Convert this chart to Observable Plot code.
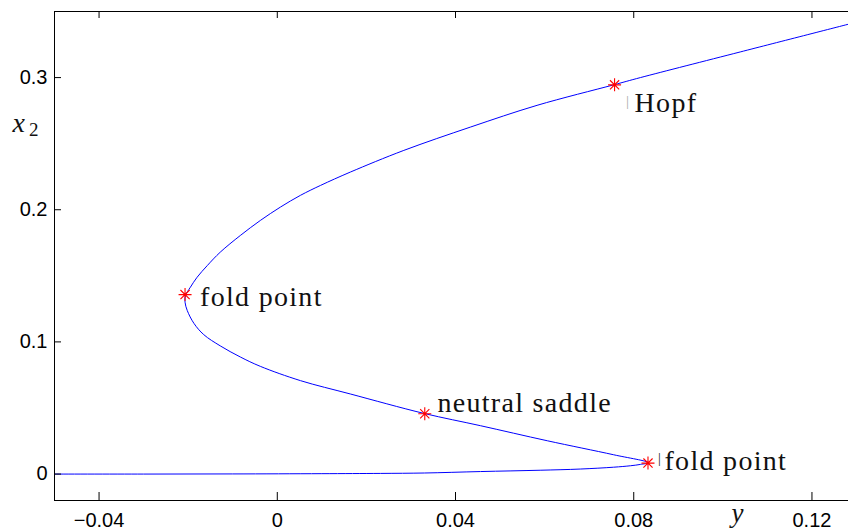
<!DOCTYPE html>
<html><head><meta charset="utf-8">
<script src="https://cdn.jsdelivr.net/npm/d3@7"></script>
<script src="https://cdn.jsdelivr.net/npm/@observablehq/plot@0.6"></script>
<style>
html,body{margin:0;padding:0;background:#fff;overflow:hidden}
</style></head><body><div id="chart"></div>
<script>
// Continuation curve: parameter y (horizontal) vs state x2 (vertical)
const curveY = [-0.05, -0.03, -0.01, 0.01, 0.0232, 0.033, 0.0456, 0.059, 0.068, 0.0755, 0.0793, 0.0815, 0.0833,
  0.0755, 0.0606, 0.0456, 0.0329, 0.0164, 0.0052, -0.0038, -0.0083, -0.0128, -0.0165, -0.0187, -0.0202, -0.0207,
  -0.0206, -0.0195, -0.0180, -0.0157, -0.0128, -0.0083, -0.0038, 0.0007, 0.0052, 0.0097, 0.0164, 0.0284, 0.0434, 0.0583, 0.0755, 0.0815, 0.1039, 0.1282];
const curveX2 = [0.0000, 0.0000, 0.0001, 0.0003, 0.0005, 0.0008, 0.0019, 0.0029, 0.0038, 0.0052, 0.0063, 0.0073, 0.0086,
  0.0146, 0.0252, 0.0366, 0.0459, 0.0606, 0.0707, 0.0815, 0.0886, 0.0970, 0.1055, 0.1140, 0.1237, 0.1300,
  0.1351, 0.1414, 0.1489, 0.1578, 0.1679, 0.1805, 0.1919, 0.2020, 0.2109, 0.2184, 0.2285, 0.2449, 0.2626, 0.2790, 0.2945, 0.3000, 0.3194, 0.3404];

// Special points
const pointY = [0.0757, -0.0207, 0.0331, 0.0832];
const pointX2 = [0.2945, 0.1358, 0.0456, 0.0083];
const pointLabels = ["Hopf", "fold point", "neutral saddle", "fold point"];

// Axes
const xTicks = [-0.04, 0, 0.04, 0.08, 0.12];
const xTickLabels = ["−0.04", "0", "0.04", "0.08", "0.12"];
const yTicks = [0, 0.1, 0.2, 0.3];
const yTickLabels = ["0", "0.1", "0.2", "0.3"];
const xDomain = [-0.05, 0.1282];
const yDomain = [-0.02, 0.35];
const xLabel = "y";
const yLabelMain = "x";
const yLabelSub = "2";

const W = 848, H = 531, mL = 54, mR = 0, mT = 11, mB = 31;
const plotW = W - mL - mR, plotH = H - mT - mB;

const matlabStar = {
  draw(context, size) {
    const r = Math.sqrt(size / Math.PI);
    const d = r * Math.SQRT1_2;
    context.moveTo(0, -r); context.lineTo(0, r);
    context.moveTo(-r, 0); context.lineTo(r, 0);
    context.moveTo(-d, -d); context.lineTo(d, d);
    context.moveTo(-d, d); context.lineTo(d, -d);
  }
};

const labelOffsets = [[20, 18], [15, 2.5], [12.7, -10.3], [16.5, -1.6]];
const labelMarks = pointLabels.map((_, k) => Plot.text([k], {
  x: i => pointY[i], y: i => pointX2[i], text: i => pointLabels[i],
  dx: labelOffsets[k][0], dy: labelOffsets[k][1], textAnchor: "start",
  fontFamily: "Liberation Serif", fontSize: 28, fill: "#111"
}));

const chart = Plot.plot({
  width: W, height: H,
  marginLeft: mL, marginRight: mR, marginTop: mT, marginBottom: mB,
  style: {fontFamily: "Liberation Sans", fontSize: "20px", color: "#000", background: "#fff"},
  x: {domain: xDomain, label: null},
  y: {domain: yDomain, label: null},
  marks: [
    Plot.line(curveY, {x: d => d, y: (d, i) => curveX2[i], stroke: "#0000ff", strokeWidth: 1, curve: "catmull-rom", clip: true}),
    // frame (left, top, bottom)
    Plot.ruleX([xDomain[0]], {x: d => d, stroke: "#000", strokeWidth: 1}),
    Plot.ruleY(yDomain, {y: d => d, stroke: "#000", strokeWidth: 1}),
    // inward ticks
    Plot.ruleX(xTicks, {x: d => d, insetTop: plotH - 8, stroke: "#000", strokeWidth: 1}),
    Plot.ruleX(xTicks, {x: d => d, insetBottom: plotH - 7, stroke: "#000", strokeWidth: 1}),
    Plot.ruleY(yTicks, {y: d => d, insetRight: plotW - 7, stroke: "#000", strokeWidth: 1}),
    Plot.axisX(xTicks, {tickSize: 0, tickPadding: 12, tickFormat: d => xTickLabels[xTicks.indexOf(d)], fontSize: 20, fontFamily: "Liberation Sans", fill: "#000"}),
    Plot.axisY(yTicks, {tickSize: 0, tickPadding: 7, tickFormat: d => yTickLabels[yTicks.indexOf(d)], fontSize: 20, fontFamily: "Liberation Sans", fill: "#000"}),
    // special points
    Plot.dot(pointY, {x: d => d, y: (d, i) => pointX2[i], symbol: matlabStar, r: 6.5, stroke: "#ff0000", fill: "none", strokeWidth: 1.1}),
    ...labelMarks,
    Plot.text([0], {x: () => pointY[0], y: () => pointX2[0], text: () => "|", dx: 13, dy: 16, fontFamily: "Liberation Serif", fontSize: 15, fill: "#aaa"}),
    Plot.text([3], {x: () => pointY[3], y: () => pointX2[3], text: () => "|", dx: 11.5, dy: -4.3, fontFamily: "Liberation Serif", fontSize: 14, fill: "#222"}),
    // axis labels
    Plot.text([xLabel], {frameAnchor: "bottom-left", text: d => d, dx: 677, dy: 21, textAnchor: "start", fontFamily: "Liberation Serif", fontStyle: "italic", fontSize: 27, fill: "#111"}),
    Plot.text([yLabelMain], {frameAnchor: "top-left", text: d => d, dx: -42, dy: 101, textAnchor: "start", fontFamily: "Liberation Serif", fontStyle: "italic", fontSize: 28, fill: "#111"}),
    Plot.text([yLabelSub], {frameAnchor: "top-left", text: d => d, dx: -25.5, dy: 111, textAnchor: "start", fontFamily: "Liberation Serif", fontSize: 19, fill: "#111"})
  ]
});
// widen the serif point labels slightly (Computer Modern is wider than Times)
d3.select(chart).selectAll("text")
  .filter(function() { return pointLabels.includes(this.textContent); })
  .style("letter-spacing", "1.3px");
document.getElementById("chart").appendChild(chart);
</script></body></html>
